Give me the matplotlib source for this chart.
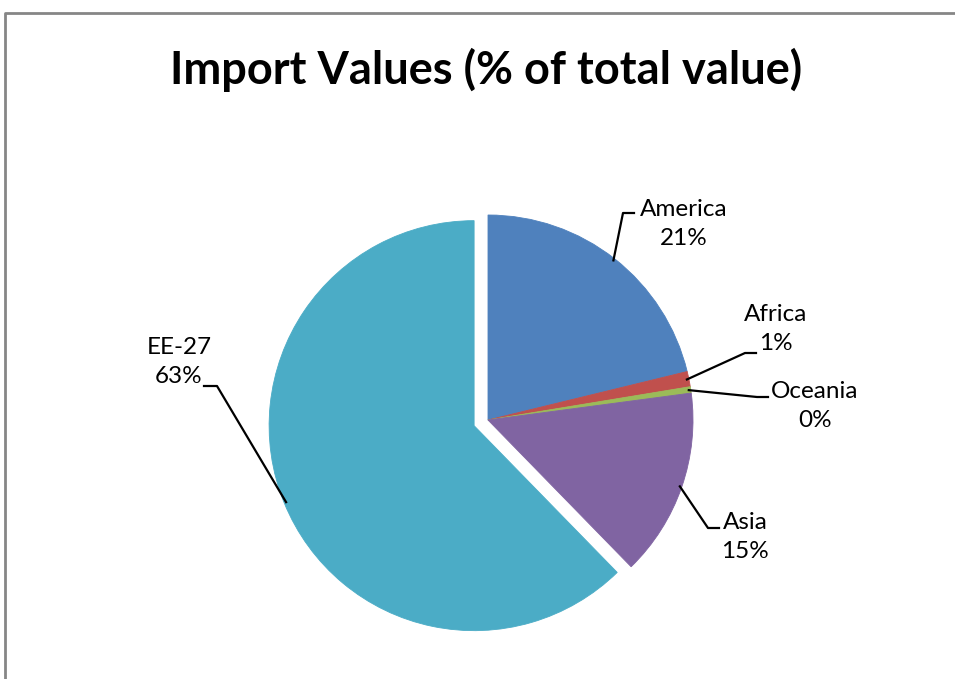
import numpy as np
import matplotlib
matplotlib.use("Agg")
import matplotlib.pyplot as plt

# --- data ---
regions = ["America", "Africa", "Oceania", "Asia", "EE-27"]
shares = [21.2, 1.2, 0.5, 14.8, 62.3]
pct_labels = ["21%", "1%", "0%", "15%", "63%"]
colors = ["#4F81BD", "#C0504D", "#9BBB59", "#8064A2", "#4BACC6"]
explode_px = [0, 0, 0, 0, 15]   # pie() offsets in data units, here pixels

# label text centres (pixels, image coords) and leader elbow points
label_pos = [(684, 224), (776, 329), (815, 406), (745, 537), (179, 362)]
elbows = [((623, 213), (634, 213)),
          ((745, 353), (756, 353)),
          ((757, 397), (768, 397)),
          ((708, 528), (719, 528)),
          ((217, 386), (204, 386))]

W, H = 955, 679
CX, CY, R = 488, 420, 205

plt.rcParams['font.family'] = ['Lato', 'DejaVu Sans']

fig = plt.figure(figsize=(W / 100, H / 100), dpi=100)
ax = fig.add_axes([0, 0, 1, 1])
ax.set_xlim(0, W)
ax.set_ylim(0, H)
ax.set_aspect('equal')
ax.axis('off')

def fy(y):
    return H - y

wedges, _ = ax.pie(shares, colors=colors, explode=explode_px, startangle=90,
                   counterclock=False, center=(CX, fy(CY)), radius=R,
                   wedgeprops=dict(linewidth=0))
for w in wedges:
    w.set_edgecolor(w.get_facecolor())
    w.set_linewidth(0.6)
ax.set_xlim(0, W)
ax.set_ylim(0, H)

# leader lines start at each wedge edge, mid angle
for w, (lx, ly), (e1, e2), name, pct in zip(wedges, label_pos, elbows, regions, pct_labels):
    ang = np.deg2rad((w.theta1 + w.theta2) / 2)
    cx, cy = w.center
    sx = cx + (R - 2) * np.cos(ang)
    sy = cy + (R - 2) * np.sin(ang)
    ax.plot([sx, e1[0], e2[0]], [sy, fy(e1[1]), fy(e2[1])], color='black', lw=1.6)
    ax.text(lx, fy(ly), name + "\n" + pct, ha='center', va='center',
            fontsize=17.5, linespacing=1.5)

ax.text(486, fy(70), "Import Values (% of total value)", ha='center', va='center',
        fontsize=32.5, fontweight='bold')

# chart frame
ax.plot([5, 5, W + 5], [0, fy(13), fy(13)], color='#868686', lw=2, clip_on=False)

fig.savefig("out.png", dpi=100)
